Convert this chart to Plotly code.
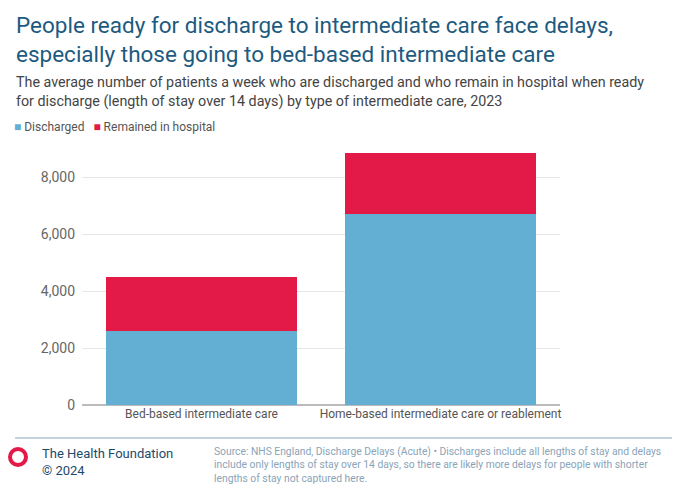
import plotly.graph_objects as go

categories = ["Bed-based intermediate care", "Home-based intermediate care or reablement"]
discharged = [2590, 6700]
remained = [1910, 2140]

font = "Roboto"
T, B = 132, 94
H = 491 - T - B

fig = go.Figure()
fig.add_trace(go.Bar(x=categories, y=discharged, name="Discharged", marker_color="#63aed3",
                     marker_line_width=0))
fig.add_trace(go.Bar(x=categories, y=remained, name="Remained in hospital", marker_color="#e31a47",
                     marker_line_width=0))

fig.update_layout(
    barmode="stack", bargap=0.2, width=680, height=491,
    margin=dict(l=74, r=128, t=T, b=B),
    plot_bgcolor="white", paper_bgcolor="white",
    font=dict(family=font, color="#555555", size=12),
    showlegend=False,
)
fig.update_yaxes(range=[0, 9300], tickvals=[0, 2000, 4000, 6000, 8000], tickformat=",",
                 showgrid=True, gridcolor="#e6e6e6", zeroline=True, zerolinecolor="#bbbbbb",
                 tickfont=dict(size=14, color="#666666"), ticks="", ticklabelstandoff=6)
fig.update_xaxes(tickfont=dict(size=12, color="#555555"), showline=False)


def py(px):
    # pixel row (from top of picture) to paper y
    return (491 - B - px) / H


fig.add_annotation(text="People ready for discharge to intermediate care face delays,<br>especially those going to bed-based intermediate care",
                   x=0, y=py(2), xref="paper", yref="paper", xanchor="left", yanchor="top",
                   showarrow=False, align="left", font=dict(size=22.5, color="#1d5a80"), xshift=-68)
fig.add_annotation(text="The average number of patients a week who are discharged and who remain in hospital when ready<br>for discharge (length of stay over 14 days) by type of intermediate care, 2023",
                   x=0, y=py(64), xref="paper", yref="paper", xanchor="left", yanchor="top",
                   showarrow=False, align="left", font=dict(size=14.3, color="#444444"), xshift=-68)
fig.add_annotation(text="<span style='color:#63aed3'>■</span> Discharged   <span style='color:#e31a47'>■</span> Remained in hospital",
                   x=0, y=py(110), xref="paper", yref="paper", xanchor="left", yanchor="top",
                   showarrow=False, align="left", font=dict(size=12, color="#555555"), xshift=-70)
# footer
fig.add_shape(type="line", xref="paper", yref="paper", x0=-0.14, x1=1.25, y0=py(430), y1=py(430),
              line=dict(color="#8aa4b8", width=1))
fig.add_shape(type="circle", xref="paper", yref="paper", xsizemode="pixel", ysizemode="pixel",
              xanchor=0, yanchor=py(449), x0=-74 + 2, x1=-74 + 18, y0=-8, y1=8,
              line=dict(color="#e31a47", width=4), fillcolor="white")
fig.add_annotation(text="The Health Foundation<br>© 2024", x=0, y=py(436), xref="paper", yref="paper",
                   xanchor="left", yanchor="top", showarrow=False, align="left",
                   font=dict(size=13, color="#1d4a6b"), xshift=-42)
fig.add_annotation(text="Source: NHS England, Discharge Delays (Acute) • Discharges include all lengths of stay and delays<br>include only lengths of stay over 14 days, so there are likely more delays for people with shorter<br>lengths of stay not captured here.",
                   x=0, y=py(435), xref="paper", yref="paper", xanchor="left", yanchor="top",
                   showarrow=False, align="left", font=dict(size=10.3, color="#8aa4b8"), xshift=130)

fig.write_html("out.html")
